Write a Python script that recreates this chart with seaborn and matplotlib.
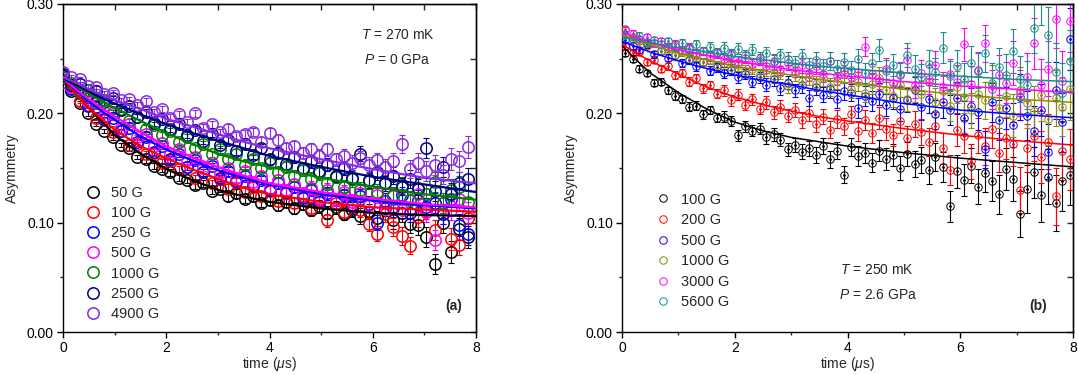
import numpy as np
import pandas as pd
import matplotlib
matplotlib.use("Agg")
import matplotlib.pyplot as plt
from matplotlib.lines import Line2D
from matplotlib.ticker import MultipleLocator
import seaborn as sns

# ---------------- data: panel (a)  T = 270 mK, P = 0 GPa ----------------
time_a = [0.00, 0.16, 0.32, 0.48, 0.64, 0.80, 0.96, 1.12, 1.28, 1.44,
          1.60, 1.76, 1.92, 2.08, 2.24, 2.40, 2.56, 2.72, 2.88, 3.04,
          3.20, 3.36, 3.52, 3.68, 3.84, 4.00, 4.16, 4.32, 4.48, 4.64,
          4.80, 4.96, 5.12, 5.28, 5.44, 5.60, 5.76, 5.92, 6.08, 6.24,
          6.40, 6.56, 6.72, 6.88, 7.04, 7.20, 7.36, 7.52, 7.68, 7.84]
labels_a = ["50 G", "100 G", "250 G", "500 G", "1000 G", "2500 G", "4900 G"]
asym_50G = [0.234, 0.220, 0.209, 0.200, 0.190, 0.184, 0.178, 0.171, 0.168, 0.160,
            0.158, 0.152, 0.149, 0.146, 0.141, 0.139, 0.134, 0.136, 0.129, 0.131,
            0.124, 0.127, 0.122, 0.124, 0.118, 0.121, 0.116, 0.119, 0.113, 0.117,
            0.112, 0.115, 0.109, 0.114, 0.108, 0.112, 0.106, 0.110, 0.104, 0.113,
            0.102, 0.109, 0.099, 0.098, 0.087, 0.062, 0.100, 0.073, 0.094, 0.087]
asym_100G = [0.229, 0.224, 0.211, 0.208, 0.196, 0.194, 0.183, 0.184, 0.171, 0.172,
             0.163, 0.164, 0.155, 0.157, 0.149, 0.151, 0.141, 0.146, 0.136, 0.140,
             0.131, 0.137, 0.128, 0.133, 0.124, 0.129, 0.120, 0.127, 0.118, 0.124,
             0.113, 0.121, 0.102, 0.118, 0.110, 0.116, 0.112, 0.099, 0.090, 0.108,
             0.096, 0.088, 0.079, 0.105, 0.112, 0.093, 0.108, 0.085, 0.080, 0.104]
asym_250G = [0.233, 0.222, 0.219, 0.207, 0.206, 0.195, 0.196, 0.184, 0.187, 0.174,
             0.178, 0.165, 0.170, 0.158, 0.163, 0.151, 0.157, 0.146, 0.152, 0.141,
             0.147, 0.138, 0.143, 0.134, 0.139, 0.130, 0.136, 0.128, 0.133, 0.123,
             0.130, 0.119, 0.127, 0.121, 0.125, 0.115, 0.124, 0.117, 0.100, 0.120,
             0.113, 0.125, 0.109, 0.121, 0.114, 0.118, 0.108, 0.122, 0.098, 0.090]
asym_500G = [0.236, 0.224, 0.221, 0.210, 0.209, 0.198, 0.199, 0.187, 0.190, 0.178,
             0.181, 0.170, 0.173, 0.163, 0.167, 0.157, 0.160, 0.150, 0.155, 0.145,
             0.150, 0.141, 0.147, 0.137, 0.143, 0.132, 0.139, 0.130, 0.135, 0.127,
             0.132, 0.123, 0.130, 0.121, 0.128, 0.119, 0.127, 0.116, 0.125, 0.114,
             0.124, 0.112, 0.121, 0.126, 0.110, 0.084, 0.118, 0.112, 0.122, 0.109]
asym_1000G = [0.233, 0.228, 0.219, 0.221, 0.210, 0.212, 0.201, 0.204, 0.193, 0.197,
              0.186, 0.189, 0.180, 0.184, 0.174, 0.178, 0.168, 0.172, 0.163, 0.167,
              0.158, 0.163, 0.153, 0.158, 0.150, 0.155, 0.146, 0.151, 0.143, 0.148,
              0.140, 0.145, 0.136, 0.142, 0.133, 0.140, 0.130, 0.138, 0.128, 0.136,
              0.125, 0.134, 0.121, 0.132, 0.126, 0.137, 0.118, 0.130, 0.133, 0.119]
asym_2500G = [0.236, 0.226, 0.227, 0.218, 0.220, 0.210, 0.214, 0.203, 0.207, 0.197,
              0.201, 0.191, 0.195, 0.186, 0.190, 0.180, 0.185, 0.175, 0.181, 0.171,
              0.176, 0.166, 0.172, 0.162, 0.168, 0.158, 0.164, 0.154, 0.160, 0.150,
              0.156, 0.147, 0.153, 0.143, 0.150, 0.141, 0.163, 0.139, 0.146, 0.136,
              0.143, 0.133, 0.140, 0.131, 0.168, 0.129, 0.151, 0.126, 0.136, 0.140]
asym_4900G = [0.238, 0.233, 0.231, 0.225, 0.224, 0.218, 0.219, 0.212, 0.213, 0.208,
              0.211, 0.201, 0.204, 0.196, 0.199, 0.192, 0.200, 0.187, 0.190, 0.183,
              0.186, 0.179, 0.181, 0.183, 0.174, 0.182, 0.176, 0.168, 0.170, 0.164,
              0.167, 0.161, 0.167, 0.158, 0.161, 0.155, 0.159, 0.153, 0.157, 0.151,
              0.156, 0.172, 0.149, 0.155, 0.147, 0.153, 0.144, 0.158, 0.156, 0.169]
err_a = [0.002, 0.002, 0.002, 0.002, 0.002, 0.002, 0.002, 0.002, 0.002, 0.002,
         0.003, 0.003, 0.003, 0.003, 0.003, 0.003, 0.003, 0.003, 0.003, 0.003,
         0.004, 0.004, 0.004, 0.004, 0.004, 0.005, 0.005, 0.005, 0.005, 0.005,
         0.006, 0.006, 0.006, 0.006, 0.006, 0.007, 0.007, 0.007, 0.007, 0.007,
         0.008, 0.008, 0.008, 0.009, 0.009, 0.009, 0.009, 0.010, 0.010, 0.010]

fit_time = [0, 0.25, 0.5, 0.75, 1, 1.5, 2, 2.5, 3, 3.5, 4, 5, 6, 7, 8]
fit_50G = [0.232, 0.218, 0.205, 0.193, 0.180, 0.163, 0.149, 0.139, 0.130, 0.124, 0.119, 0.113, 0.109, 0.107, 0.106]
fit_100G = [0.232, 0.218, 0.205, 0.195, 0.185, 0.170, 0.159, 0.149, 0.140, 0.132, 0.126, 0.119, 0.114, 0.112, 0.110]
fit_250G = [0.232, 0.221, 0.211, 0.202, 0.194, 0.179, 0.167, 0.157, 0.148, 0.141, 0.135, 0.126, 0.120, 0.116, 0.113]
fit_500G = [0.232, 0.222, 0.213, 0.205, 0.197, 0.183, 0.170, 0.160, 0.151, 0.143, 0.136, 0.128, 0.122, 0.117, 0.114]
fit_1000G = [0.232, 0.225, 0.218, 0.211, 0.205, 0.193, 0.182, 0.172, 0.163, 0.156, 0.151, 0.141, 0.133, 0.126, 0.121]
fit_2500G = [0.232, 0.226, 0.220, 0.214, 0.209, 0.199, 0.190, 0.182, 0.175, 0.168, 0.161, 0.151, 0.142, 0.135, 0.128]
fit_4900G = [0.233, 0.228, 0.222, 0.217, 0.212, 0.204, 0.195, 0.188, 0.181, 0.174, 0.168, 0.158, 0.149, 0.141, 0.136]
colors_a = ["#000000", "#ff0000", "#0000ff", "#ff00ff", "#008000", "#000080", "#8a2be2"]

# ---------------- data: panel (b)  T = 250 mK, P = 2.6 GPa ----------------
time_b = [0.06, 0.19, 0.31, 0.44, 0.56, 0.69, 0.81, 0.94, 1.06, 1.19, 1.31, 1.44, 1.56, 1.69, 1.81, 1.94,
          2.06, 2.19, 2.31, 2.44, 2.56, 2.69, 2.81, 2.94, 3.06, 3.19, 3.31, 3.44, 3.56, 3.69, 3.81, 3.94,
          4.06, 4.19, 4.31, 4.44, 4.56, 4.69, 4.81, 4.94, 5.06, 5.19, 5.31, 5.44, 5.56, 5.69, 5.81, 5.94,
          6.06, 6.19, 6.31, 6.44, 6.56, 6.69, 6.81, 6.94, 7.06, 7.19, 7.31, 7.44, 7.56, 7.69, 7.81, 7.94]
labels_b = ["100 G", "200 G", "500 G", "1000 G", "3000 G", "5600 G"]
asym_b_100G = [0.255, 0.250, 0.241, 0.237, 0.228, 0.229, 0.221, 0.216, 0.213, 0.206, 0.207, 0.199, 0.203, 0.196, 0.197, 0.193,
               0.180, 0.188, 0.184, 0.186, 0.178, 0.181, 0.176, 0.167, 0.171, 0.165, 0.168, 0.162, 0.170, 0.158, 0.166, 0.144,
               0.169, 0.161, 0.164, 0.155, 0.166, 0.158, 0.162, 0.150, 0.163, 0.154, 0.157, 0.148, 0.160, 0.151, 0.115, 0.147,
               0.139, 0.152, 0.133, 0.145, 0.138, 0.126, 0.149, 0.140, 0.108, 0.131, 0.146, 0.125, 0.142, 0.118, 0.138, 0.144]
asym_b_200G = [0.262, 0.255, 0.256, 0.247, 0.249, 0.241, 0.243, 0.235, 0.237, 0.229, 0.232, 0.223, 0.226, 0.218, 0.221, 0.212,
               0.217, 0.208, 0.213, 0.204, 0.210, 0.201, 0.206, 0.198, 0.203, 0.194, 0.200, 0.190, 0.197, 0.185, 0.195, 0.188,
               0.199, 0.184, 0.194, 0.182, 0.196, 0.186, 0.180, 0.193, 0.177, 0.190, 0.183, 0.174, 0.188, 0.168, 0.148, 0.185,
               0.179, 0.156, 0.180, 0.170, 0.186, 0.164, 0.177, 0.172, 0.130, 0.168, 0.179, 0.160, 0.174, 0.124, 0.166, 0.158]
asym_b_500G = [0.267, 0.262, 0.258, 0.263, 0.254, 0.257, 0.251, 0.253, 0.246, 0.249, 0.243, 0.247, 0.239, 0.242, 0.237, 0.240,
               0.233, 0.236, 0.229, 0.233, 0.226, 0.231, 0.223, 0.228, 0.221, 0.226, 0.214, 0.224, 0.217, 0.222, 0.213, 0.220,
               0.219, 0.205, 0.216, 0.211, 0.218, 0.208, 0.214, 0.204, 0.212, 0.221, 0.206, 0.213, 0.199, 0.210, 0.203, 0.214,
               0.196, 0.207, 0.201, 0.167, 0.210, 0.194, 0.205, 0.189, 0.215, 0.198, 0.184, 0.203, 0.165, 0.221, 0.192, 0.268]
asym_b_1000G = [0.277, 0.270, 0.266, 0.262, 0.264, 0.257, 0.259, 0.253, 0.256, 0.250, 0.252, 0.247, 0.249, 0.244, 0.246, 0.242,
                0.244, 0.239, 0.241, 0.236, 0.240, 0.234, 0.237, 0.225, 0.236, 0.230, 0.233, 0.227, 0.232, 0.224, 0.230, 0.236,
                0.222, 0.229, 0.219, 0.227, 0.232, 0.221, 0.216, 0.226, 0.213, 0.222, 0.218, 0.229, 0.210, 0.220, 0.207, 0.224,
                0.215, 0.203, 0.218, 0.212, 0.226, 0.205, 0.216, 0.198, 0.221, 0.209, 0.202, 0.217, 0.195, 0.214, 0.206, 0.222]
asym_b_3000G = [0.276, 0.273, 0.268, 0.270, 0.264, 0.266, 0.261, 0.263, 0.258, 0.260, 0.255, 0.257, 0.252, 0.255, 0.250, 0.253,
                0.247, 0.251, 0.245, 0.249, 0.243, 0.247, 0.241, 0.246, 0.239, 0.244, 0.237, 0.243, 0.236, 0.248, 0.234, 0.240,
                0.233, 0.238, 0.261, 0.236, 0.230, 0.241, 0.228, 0.235, 0.249, 0.226, 0.237, 0.231, 0.244, 0.224, 0.236, 0.229,
                0.263, 0.227, 0.240, 0.264, 0.222, 0.235, 0.228, 0.246, 0.219, 0.233, 0.264, 0.226, 0.241, 0.286, 0.230, 0.284]
asym_b_5600G = [0.272, 0.268, 0.271, 0.265, 0.267, 0.263, 0.266, 0.262, 0.264, 0.259, 0.263, 0.257, 0.261, 0.256, 0.260, 0.254,
                0.259, 0.253, 0.258, 0.251, 0.255, 0.248, 0.253, 0.250, 0.246, 0.252, 0.244, 0.249, 0.243, 0.248, 0.241, 0.247,
                0.240, 0.250, 0.237, 0.246, 0.258, 0.239, 0.244, 0.236, 0.253, 0.241, 0.233, 0.245, 0.238, 0.260, 0.234, 0.243,
                0.231, 0.246, 0.239, 0.255, 0.228, 0.242, 0.235, 0.257, 0.231, 0.226, 0.278, 0.305, 0.272, 0.238, 0.219, 0.248]
err_b = [0.003, 0.003, 0.003, 0.003, 0.003, 0.003, 0.003, 0.004, 0.004, 0.004, 0.004, 0.004, 0.004, 0.004, 0.005, 0.005,
         0.005, 0.005, 0.005, 0.005, 0.006, 0.006, 0.006, 0.006, 0.006, 0.007, 0.007, 0.007, 0.007, 0.008, 0.008, 0.008,
         0.008, 0.009, 0.009, 0.009, 0.010, 0.010, 0.010, 0.011, 0.011, 0.012, 0.012, 0.013, 0.013, 0.014, 0.014, 0.015,
         0.015, 0.016, 0.016, 0.017, 0.018, 0.018, 0.019, 0.020, 0.021, 0.022, 0.023, 0.024, 0.025, 0.026, 0.027, 0.028]
fit_b_100G = [0.262, 0.249, 0.237, 0.228, 0.219, 0.204, 0.192, 0.184, 0.178, 0.174, 0.170, 0.164, 0.159, 0.155, 0.151]
fit_b_200G = [0.263, 0.255, 0.248, 0.242, 0.236, 0.224, 0.215, 0.208, 0.202, 0.197, 0.193, 0.186, 0.180, 0.175, 0.171]
fit_b_500G = [0.266, 0.261, 0.256, 0.252, 0.248, 0.241, 0.235, 0.230, 0.226, 0.221, 0.217, 0.209, 0.203, 0.199, 0.196]
fit_b_1000G = [0.272, 0.267, 0.263, 0.259, 0.255, 0.249, 0.243, 0.239, 0.235, 0.231, 0.228, 0.222, 0.217, 0.213, 0.210]
fit_b_3000G = [0.274, 0.269, 0.265, 0.261, 0.258, 0.253, 0.248, 0.244, 0.240, 0.237, 0.234, 0.229, 0.225, 0.222, 0.219]
fit_b_5600G = [0.270, 0.267, 0.265, 0.262, 0.260, 0.256, 0.252, 0.249, 0.246, 0.243, 0.241, 0.237, 0.234, 0.231, 0.229]
colors_b = ["#000000", "#ff0000", "#0000ff", "#8c8c00", "#ff00ff", "#1a8c8c"]

series_a = [asym_50G, asym_100G, asym_250G, asym_500G, asym_1000G, asym_2500G, asym_4900G]
fits_a = [fit_50G, fit_100G, fit_250G, fit_500G, fit_1000G, fit_2500G, fit_4900G]
series_b = [asym_b_100G, asym_b_200G, asym_b_500G, asym_b_1000G, asym_b_3000G, asym_b_5600G]
fits_b = [fit_b_100G, fit_b_200G, fit_b_500G, fit_b_1000G, fit_b_3000G, fit_b_5600G]

# ---------------- style ----------------
sns.set_style("ticks")
plt.rcParams["font.family"] = ["Liberation Sans", "DejaVu Sans"]
plt.rcParams["mathtext.fontset"] = "custom"
plt.rcParams["mathtext.rm"] = "Liberation Sans"
plt.rcParams["mathtext.it"] = "Liberation Sans:italic"
plt.rcParams["mathtext.bf"] = "Liberation Sans:bold"
plt.rcParams["axes.linewidth"] = 1.0

fig = plt.figure(figsize=(10.78, 3.75), dpi=100)
ax_a = fig.add_axes([63 / 1078, 43 / 375, 413 / 1078, 328 / 375])
ax_b = fig.add_axes([622 / 1078, 43 / 375, 451 / 1078, 328 / 375])


def style_axes(ax):
    ax.set_xlim(0, 8)
    ax.set_ylim(0, 0.30)
    ax.xaxis.set_major_locator(MultipleLocator(2))
    ax.xaxis.set_minor_locator(MultipleLocator(1))
    ax.yaxis.set_major_locator(MultipleLocator(0.10))
    ax.yaxis.set_minor_locator(MultipleLocator(0.05))
    ax.yaxis.set_major_formatter(plt.FormatStrFormatter("%.2f"))
    ax.tick_params(which="major", direction="out", length=4, width=1, labelsize=10,
                   colors="black", pad=2.5)
    ax.tick_params(which="minor", direction="out", length=2.5, width=1)
    for s in ax.spines.values():
        s.set_visible(True)
        s.set_color("black")
    top = ax.secondary_xaxis("top")
    top.xaxis.set_major_locator(MultipleLocator(2))
    top.xaxis.set_minor_locator(MultipleLocator(1))
    top.tick_params(which="both", direction="in", labeltop=False, length=4, width=1)
    right = ax.secondary_yaxis("right")
    right.yaxis.set_major_locator(MultipleLocator(0.10))
    right.yaxis.set_minor_locator(MultipleLocator(0.05))
    right.tick_params(which="both", direction="in", labelright=False, length=4, width=1)
    ax.set_xlabel(r"time ($\mathit{\mu}$s)", fontsize=10, labelpad=0)
    ax.set_ylabel("Asymmetry", fontsize=10, labelpad=6)


def draw_panel(ax, t, series, err, fits, colors, labels, ms, mew, lw, dot):
    for y, c in zip(series, colors):
        ax.errorbar(t, y, yerr=err, fmt="none", ecolor=c, elinewidth=0.8,
                    capsize=2.5, capthick=0.8, zorder=2)
        sns.lineplot(x=t, y=y, ax=ax, color=c, marker="o", linestyle="",
                     markerfacecolor="none", markeredgecolor=c, markersize=ms,
                     markeredgewidth=mew, estimator=None, sort=False, zorder=3)
        if dot:
            ax.plot(t, y, linestyle="", marker="o", markersize=1.0, color=c, zorder=3)
    for f, c in zip(fits, colors):
        sns.lineplot(x=fit_time, y=f, ax=ax, color=c, linewidth=lw,
                     estimator=None, sort=False, zorder=4)
    handles = [Line2D([], [], linestyle="", marker="o", markerfacecolor="none",
                      markeredgecolor=c, markersize=ms, markeredgewidth=mew)
               for c in colors]
    return handles


h_a = draw_panel(ax_a, time_a, series_a, err_a, fits_a, colors_a, labels_a,
                 ms=8.2, mew=1.1, lw=1.6, dot=False)
h_b = draw_panel(ax_b, time_b, series_b, err_b, fits_b, colors_b, labels_b,
                 ms=5.4, mew=0.7, lw=1.1, dot=True)

for ax in (ax_a, ax_b):
    style_axes(ax)

ax_a.legend(h_a, labels_a, frameon=False, loc="upper left",
            bbox_to_anchor=(0.055, 0.445), borderpad=0, borderaxespad=0,
            handlelength=1.0, handletextpad=0.7, labelspacing=0.42, fontsize=10.5)
ax_b.legend(h_b, labels_b, frameon=False, loc="upper left",
            bbox_to_anchor=(0.075, 0.425), borderpad=0, borderaxespad=0,
            handlelength=1.0, handletextpad=0.7, labelspacing=0.45, fontsize=10.5)

ax_a.text(0.81, 0.905, r"$T$ = 270 mK", transform=ax_a.transAxes, ha="center", va="center", fontsize=10)
ax_a.text(0.81, 0.83, r"$P$ = 0 GPa", transform=ax_a.transAxes, ha="center", va="center", fontsize=10)
ax_a.text(0.947, 0.08, "(a)", transform=ax_a.transAxes, ha="center", va="center",
          fontsize=10, fontweight="bold")
ax_b.text(0.565, 0.19, r"$T$ = 250 mK", transform=ax_b.transAxes, ha="center", va="center", fontsize=10)
ax_b.text(0.567, 0.113, r"$P$ = 2.6 GPa", transform=ax_b.transAxes, ha="center", va="center", fontsize=10)
ax_b.text(0.922, 0.08, "(b)", transform=ax_b.transAxes, ha="center", va="center",
          fontsize=10, fontweight="bold")

fig.savefig("out.png", dpi=100)
